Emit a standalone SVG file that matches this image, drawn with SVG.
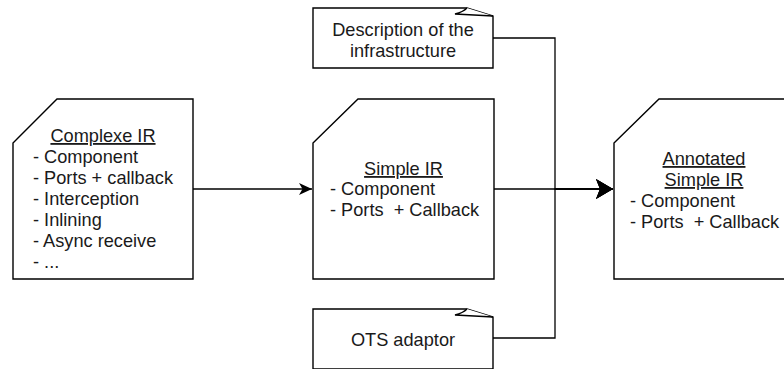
<svg xmlns="http://www.w3.org/2000/svg" width="784" height="369" viewBox="0 0 784 369">
<style>
.box{fill:#fff;stroke:#000;stroke-width:1.4;stroke-linejoin:miter}
.t{font-family:"Liberation Sans",Arial,sans-serif;font-size:18.2px;fill:#1a1a1a;white-space:pre}
.c{text-anchor:middle}
.u{text-decoration:underline}
.edge{fill:none;stroke:#000;stroke-width:1.3}
</style>
<defs>
<marker id="a1" markerUnits="userSpaceOnUse" viewBox="0 0 14 12" refX="13" refY="6" markerWidth="14" markerHeight="12" orient="auto">
<path d="M13,6 L0,0 L3.5,6 L0,12 Z" fill="#000"/>
</marker>
<marker id="a2" markerUnits="userSpaceOnUse" viewBox="0 0 18 20" refX="17" refY="10" markerWidth="18" markerHeight="20" orient="auto">
<path d="M17,10 L0,0 L4,10 L0,20 Z" fill="#000"/>
</marker>
</defs>
<g id="connectors">
<path class="edge" d="M193,189 H312" marker-end="url(#a1)"/>
<path class="edge" d="M494,189 H613" marker-end="url(#a2)"/>
<path class="edge" d="M493,38 H555 V189 H613" marker-end="url(#a2)"/>
<path class="edge" d="M493,338 H555 V189 H613" marker-end="url(#a2)"/>
</g>
<g id="complexe-ir">
<path class="box" d="M13,143 L57,99 H193 V279 H13 Z"/>
<text class="t c u" x="103" y="142">Complexe IR</text>
<text class="t" x="33" y="163">- Component</text>
<text class="t" x="33" y="184">- Ports + callback</text>
<text class="t" x="33" y="205">- Interception</text>
<text class="t" x="33" y="226">- Inlining</text>
<text class="t" x="33" y="247">- Async receive</text>
<text class="t" x="33" y="268">- ...</text>
</g>
<g id="simple-ir">
<path class="box" d="M313,143 L358,99 H494 V279 H313 Z"/>
<text class="t c u" x="403.5" y="175">Simple IR</text>
<text class="t" x="330" y="195">- Component</text>
<text class="t" x="330" y="216">- Ports  + Callback</text>
</g>
<g id="annotated-simple-ir">
<path class="box" d="M614,143 L659,99 H795 V279 H614 Z"/>
<text class="t c u" x="704" y="165">Annotated</text>
<text class="t c u" x="704" y="186">Simple IR</text>
<text class="t" x="630" y="207">- Component</text>
<text class="t" x="630" y="228">- Ports  + Callback</text>
</g>
<g id="description">
<path class="box" d="M313,8 H467 L493,16 V68 H313 Z"/>
<path class="box" d="M467,8 Q463,12 455,14 L493,16" fill="none"/>
<text class="t c" x="403" y="36">Description of the</text>
<text class="t c" x="403" y="57">infrastructure</text>
</g>
<g id="ots-adaptor">
<path class="box" d="M313,309 H467 L493,317 V369 H313 Z"/>
<path class="box" d="M467,309 Q463,313 455,315 L493,317" fill="none"/>
<text class="t c" x="403" y="346">OTS adaptor</text>
</g>
</svg>
